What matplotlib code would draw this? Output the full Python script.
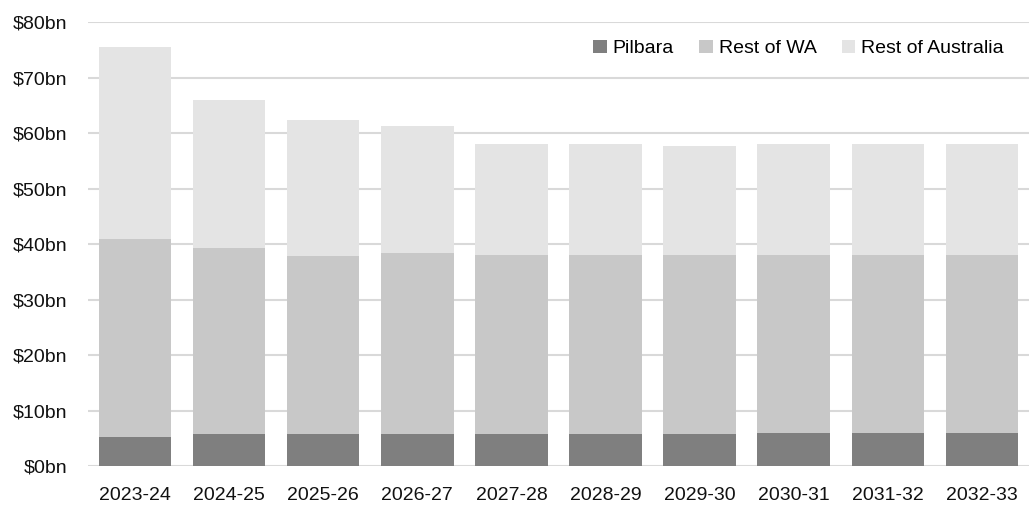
import matplotlib

matplotlib.use("Agg")
import matplotlib.pyplot as plt
import numpy as np
from matplotlib.font_manager import fontManager

YEARS = ["2023-24", "2024-25", "2025-26", "2026-27", "2027-28",
         "2028-29", "2029-30", "2030-31", "2031-32", "2032-33"]
# $bn by region
PILBARA = [5.3, 5.8, 5.7, 5.7, 5.8, 5.8, 5.8, 5.9, 5.9, 5.9]
REST_OF_WA = [35.6, 33.5, 32.2, 32.6, 32.2, 32.3, 32.2, 32.1, 32.1, 32.2]
REST_OF_AUSTRALIA = [34.6, 26.6, 24.5, 23.0, 20.1, 20.0, 19.6, 20.1, 20.1, 20.0]

SERIES = [
    ("Pilbara", PILBARA, "#7f7f7f"),
    ("Rest of WA", REST_OF_WA, "#c8c8c8"),
    ("Rest of Australia", REST_OF_AUSTRALIA, "#e4e4e4"),
]

names = {f.name for f in fontManager.ttflist}
family = "Liberation Sans Narrow" if "Liberation Sans Narrow" in names else "Liberation Sans"
plt.rcParams["font.family"] = [family, "DejaVu Sans"]

fig = plt.figure(figsize=(10.33, 5.05), dpi=100)
ax = fig.add_axes([0.0852, 0.0772, 0.9108, 0.8792])

x = np.arange(len(YEARS))
bottom = np.zeros(len(YEARS))
for label, values, color in SERIES:
    ax.bar(x, values, width=0.77, bottom=bottom, color=color, label=label, zorder=2)
    bottom += np.array(values)

ax.set_xlim(-0.5, len(YEARS) - 0.5)
ax.set_ylim(0, 80)
ax.set_yticks(range(0, 81, 10))
ax.set_yticklabels([f"${v}bn" for v in range(0, 81, 10)])
ax.set_xticks(x, YEARS)
ax.yaxis.grid(True, color="#d9d9d9", linewidth=1.5, zorder=0)
ax.set_axisbelow(True)
for spine in ax.spines.values():
    spine.set_visible(False)
ax.tick_params(axis="both", length=0, labelsize=14, colors="#111111")
ax.tick_params(axis="x", pad=15)
ax.tick_params(axis="y", pad=15)

ax.legend(loc="upper right", bbox_to_anchor=(0.992, 1.0), ncol=3, frameon=False,
          fontsize=14, handlelength=0.7, handleheight=0.7, handletextpad=0.3,
          columnspacing=1.3)

fig.savefig("out.png", dpi=100)
